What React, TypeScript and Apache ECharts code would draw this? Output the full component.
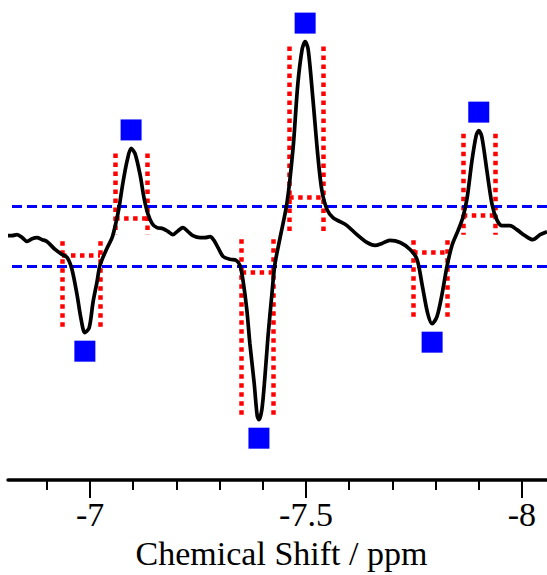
import { useEffect, useRef } from "react";
import * as echarts from "echarts";

// Chemical shift (ppm) and intensity (arbitrary units) of the spectrum trace
const shiftPpm = [
  -6.81, -6.819, -6.831, -6.843, -6.854, -6.866, -6.877, -6.889, -6.9, -6.919,
  -6.935, -6.947, -6.958, -6.97, -6.979, -6.988, -6.998, -7.007, -7.016, -7.023,
  -7.039, -7.051, -7.06, -7.067, -7.076, -7.086, -7.095, -7.104, -7.116, -7.125,
  -7.134, -7.144, -7.155, -7.169, -7.181, -7.192, -7.204, -7.215, -7.227, -7.238,
  -7.255, -7.266, -7.278, -7.287, -7.296, -7.308, -7.324, -7.338, -7.347, -7.354,
  -7.363, -7.37, -7.38, -7.387, -7.391, -7.398, -7.405, -7.412, -7.421, -7.428,
  -7.44, -7.456, -7.47, -7.481, -7.491, -7.498, -7.505, -7.516, -7.528, -7.537,
  -7.549, -7.563, -7.579, -7.595, -7.618, -7.641, -7.66, -7.676, -7.694, -7.718,
  -7.741, -7.757, -7.769, -7.782, -7.792, -7.803, -7.815, -7.826, -7.838, -7.852,
  -7.863, -7.873, -7.884, -7.894, -7.9, -7.907, -7.919, -7.931, -7.942, -7.954,
  -7.972, -7.988, -8.007, -8.025, -8.042, -8.058,
];
const intensity = [
  0.022, 0.022, 0.027, 0.012, -0.007, 0.007, 0.012, 0.002, -0.007, -0.047,
  -0.072, -0.087, -0.146, -0.275, -0.393, -0.463, -0.438, -0.309, -0.21, -0.126,
  -0.042, 0.012, 0.087, 0.161, 0.285, 0.398, 0.458, 0.433, 0.324, 0.21,
  0.131, 0.082, 0.062, 0.057, 0.042, 0.027, 0.047, 0.062, 0.042, 0.022,
  0.012, 0.012, 0.017, -0.002, -0.037, -0.082, -0.096, -0.101, -0.126, -0.2,
  -0.349, -0.517, -0.715, -0.879, -0.898, -0.844, -0.68, -0.482, -0.27, -0.121,
  0.012, 0.186, 0.458, 0.779, 0.953, 0.992, 0.953, 0.705, 0.408, 0.245,
  0.151, 0.111, 0.092, 0.072, 0.027, -0.012, -0.027, -0.017, -0.002, -0.012,
  -0.047, -0.096, -0.225, -0.369, -0.418, -0.384, -0.27, -0.136, -0.027, 0.047,
  0.111, 0.21, 0.393, 0.522, 0.547, 0.517, 0.344, 0.176, 0.101, 0.072,
  0.072, 0.052, 0.022, 0.002, 0.027, 0.042,
];

// Picked peaks
const peakShift = [-6.988, -7.095, -7.391, -7.498, -7.792, -7.9];
const peakHeight = [-0.463, 0.458, -0.898, 0.992, -0.418, 0.547];

// Integration boxes around each peak
const boxLeft = [-6.935, -7.058, -7.351, -7.461, -7.748, -7.863];
const boxRight = [-7.023, -7.132, -7.424, -7.539, -7.826, -7.938];
const boxBase = [0.012, 0.027, 0.012, 0.027, 0.012, 0.027];
const boxEnd = [-0.433, 0.433, -0.873, 0.967, -0.384, 0.532];
const boxLevel = [-0.077, 0.111, -0.161, 0.215, -0.062, 0.126];

// Noise thresholds
const thresholds = [0.173, -0.128];

// Axis
const xMin = -8.058;
const xMax = -6.81;
const majorTickValues = [-7, -7.5, -8];
const minorTickValues = [-6.9, -7.1, -7.2, -7.3, -7.4, -7.6, -7.7, -7.8, -7.9];
const axisTitle = "Chemical Shift / ppm";

export default function App() {
  const ref = useRef<HTMLDivElement>(null);

  useEffect(() => {
    if (!ref.current) return;
    const chart = echarts.init(ref.current, undefined, { renderer: "svg" });

    const curve = shiftPpm.map((x, i) => [x, intensity[i]]);
    const boxSegments: any[] = [];
    for (let i = 0; i < boxLeft.length; i++) {
      boxSegments.push({ coords: [[boxLeft[i], boxEnd[i]], [boxLeft[i], boxBase[i]]] });
      boxSegments.push({ coords: [[boxRight[i], boxEnd[i]], [boxRight[i], boxBase[i]]] });
      boxSegments.push({ coords: [[boxLeft[i], boxLevel[i]], [boxRight[i], boxLevel[i]]] });
    }
    const markers = peakShift.map((x, i) => ({
      value: [x, peakHeight[i]],
      symbolOffset: [0, peakHeight[i] > 0 ? -18.5 : 18.5],
    }));

    const font = "'Liberation Serif', 'Times New Roman', serif";

    chart.setOption({
      animation: false,
      backgroundColor: "#ffffff",
      grid: { left: 8, right: 0, top: 0, bottom: 90, containLabel: false },
      xAxis: [
        {
          type: "value",
          min: xMin,
          max: xMax,
          inverse: true,
          axisLine: { show: true, onZero: false, lineStyle: { color: "#000", width: 3.5 } },
          axisTick: {
            show: true,
            customValues: majorTickValues,
            length: 18,
            lineStyle: { color: "#000", width: 2 },
          },
          axisLabel: {
            show: true,
            customValues: majorTickValues,
            formatter: (v: number) => String(v),
            fontFamily: font,
            fontSize: 34,
            color: "#000",
            margin: 17,
          },
          splitLine: { show: false },
          name: axisTitle,
          nameLocation: "middle",
          nameGap: 55,
          nameTextStyle: {
            fontFamily: font,
            fontSize: 34,
            color: "#000",
            padding: [0, 0, 0, 8],
          },
        },
        {
          type: "value",
          min: xMin,
          max: xMax,
          inverse: true,
          position: "bottom",
          axisLine: { show: false, onZero: false },
          axisTick: {
            show: true,
            customValues: minorTickValues,
            length: 10,
            lineStyle: { color: "#000", width: 2 },
          },
          axisLabel: { show: false },
          splitLine: { show: false },
        },
      ],
      yAxis: {
        type: "value",
        min: -1.2,
        max: 1.2,
        show: false,
        splitLine: { show: false },
      },
      series: [
        {
          type: "lines",
          coordinateSystem: "cartesian2d",
          xAxisIndex: 0,
          yAxisIndex: 0,
          polyline: false,
          data: boxSegments,
          lineStyle: { color: "#ff0000", width: 4.5, type: [4.5, 4.5], opacity: 1 },
          z: 2,
          silent: true,
        },
        {
          type: "line",
          xAxisIndex: 0,
          data: curve,
          showSymbol: false,
          smooth: 0.3,
          lineStyle: { color: "#000", width: 3.7 },
          z: 4,
          markLine: {
            silent: true,
            symbol: "none",
            label: { show: false },
            lineStyle: { color: "#0000ff", width: 3, type: [10, 5] },
            data: thresholds.map((t) => ({ yAxis: t })),
            z: 3,
          },
        },
        {
          type: "scatter",
          xAxisIndex: 0,
          data: markers,
          symbol: "rect",
          symbolSize: 21,
          itemStyle: { color: "#0000ff", opacity: 1 },
          z: 5,
        },
      ],
    });

    return () => chart.dispose();
  }, []);

  return (
    <div
      ref={ref}
      style={{ position: "fixed", left: 0, top: 0, width: 547, height: 575, background: "#fff" }}
    />
  );
}
